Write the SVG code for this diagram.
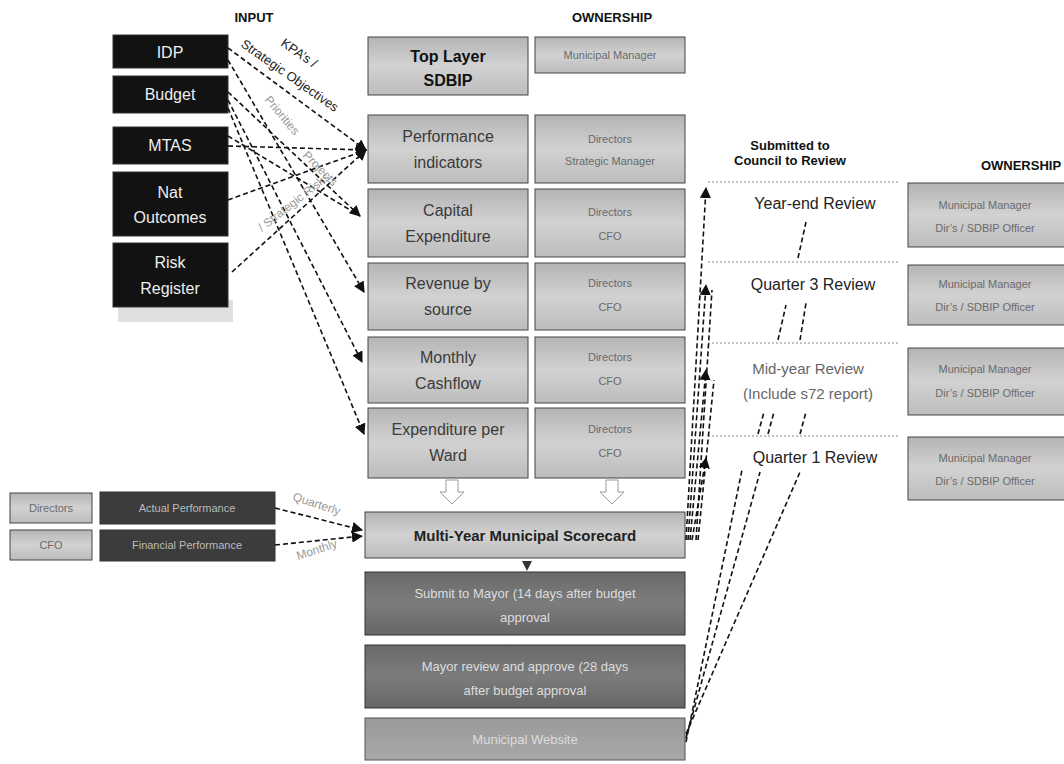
<svg xmlns="http://www.w3.org/2000/svg" width="1064" height="764" viewBox="0 0 1064 764">
<defs>
<linearGradient id="gLight" x1="0" y1="0" x2="0" y2="1">
<stop offset="0" stop-color="#b4b4b4"/><stop offset="0.5" stop-color="#d2d2d2"/><stop offset="1" stop-color="#bcbcbc"/>
</linearGradient>
<linearGradient id="gDark" x1="0" y1="0" x2="0" y2="1">
<stop offset="0" stop-color="#6a6a6a"/><stop offset="0.5" stop-color="#7c7c7c"/><stop offset="1" stop-color="#666"/>
</linearGradient>
<linearGradient id="gMid" x1="0" y1="0" x2="0" y2="1">
<stop offset="0" stop-color="#9a9a9a"/><stop offset="1" stop-color="#a8a8a8"/>
</linearGradient>
<marker id="ah" viewBox="0 0 10 10" refX="9" refY="5" markerWidth="7" markerHeight="7" orient="auto-start-reverse">
<path d="M0,0 L10,5 L0,10 z" fill="#111"/>
</marker>
<style>
text{font-family:"Liberation Sans",Arial,sans-serif;}
.title{font-size:13px;font-weight:bold;fill:#111;text-anchor:middle;}
.inbox{fill:#121212;stroke:#333;stroke-width:1;}
.intext{font-size:16px;fill:#eee;text-anchor:middle;}
.cbox{fill:url(#gLight);stroke:#444;stroke-width:1;}
.ctext{font-size:16px;fill:#3a3a3a;text-anchor:middle;}
.otext{font-size:11px;fill:#6a6a6a;text-anchor:middle;}
.dbox{fill:url(#gDark);stroke:#333;stroke-width:1;}
.dtext{font-size:13px;fill:#ddd;text-anchor:middle;}
.rtext{font-size:16px;fill:#222;text-anchor:middle;}
.rline{stroke:#888;stroke-width:1;stroke-dasharray:2 2;fill:none;}
.dash{stroke:#111;stroke-width:1.6;stroke-dasharray:5 3;fill:none;}
.dashm{stroke:#111;stroke-width:1.6;stroke-dasharray:5 3;fill:none;marker-end:url(#ah);}
.lbl{font-size:13px;fill:#222;}
.glbl{font-size:12px;fill:#999;}
.hollow{fill:#fff;stroke:#999;stroke-width:1;}
</style>
</defs>

<text class="title" x="254" y="22">INPUT</text>
<text class="title" x="612" y="22">OWNERSHIP</text>
<text class="title" x="790" y="150">Submitted to</text>
<text class="title" x="790" y="165">Council to Review</text>
<text class="title" x="1021" y="170">OWNERSHIP</text>

<g id="input-idp"><rect class="inbox" x="113" y="35" width="115" height="33"/><text class="intext" x="170" y="58">IDP</text></g>
<g id="input-budget"><rect class="inbox" x="113" y="76" width="115" height="37"/><text class="intext" x="170" y="100">Budget</text></g>
<g id="input-mtas"><rect class="inbox" x="113" y="127" width="115" height="37"/><text class="intext" x="170" y="151">MTAS</text></g>
<g id="input-nat"><rect class="inbox" x="113" y="172" width="115" height="64"/><text class="intext" x="170" y="198">Nat</text><text class="intext" x="170" y="223">Outcomes</text></g>
<g id="input-risk"><rect x="118" y="300" width="115" height="22" fill="#ccc" opacity="0.6"/><rect class="inbox" x="113" y="243" width="115" height="64"/><text class="intext" x="170" y="268">Risk</text><text class="intext" x="170" y="294">Register</text></g>

<g id="top-layer"><rect class="cbox" x="368" y="37" width="160" height="58"/><text x="448" y="62" font-size="16" font-weight="bold" fill="#111" text-anchor="middle">Top Layer</text><text x="448" y="86" font-size="16" font-weight="bold" fill="#111" text-anchor="middle">SDBIP</text></g>
<g id="perf"><rect class="cbox" x="368" y="115" width="160" height="68"/><text class="ctext" x="448" y="142">Performance</text><text class="ctext" x="448" y="168">indicators</text></g>
<g id="capex"><rect class="cbox" x="368" y="189" width="160" height="68"/><text class="ctext" x="448" y="216">Capital</text><text class="ctext" x="448" y="242">Expenditure</text></g>
<g id="revenue"><rect class="cbox" x="368" y="263" width="160" height="67"/><text class="ctext" x="448" y="289">Revenue by</text><text class="ctext" x="448" y="315">source</text></g>
<g id="cashflow"><rect class="cbox" x="368" y="337" width="160" height="66"/><text class="ctext" x="448" y="363">Monthly</text><text class="ctext" x="448" y="389">Cashflow</text></g>
<g id="ward"><rect class="cbox" x="368" y="408" width="160" height="70"/><text class="ctext" x="448" y="435">Expenditure per</text><text class="ctext" x="448" y="461">Ward</text></g>

<g id="own-mm"><rect class="cbox" x="535" y="37" width="150" height="36"/><text class="otext" x="610" y="59">Municipal Manager</text></g>
<g id="own-perf"><rect class="cbox" x="535" y="115" width="150" height="68"/><text class="otext" x="610" y="143">Directors</text><text class="otext" x="610" y="165">Strategic Manager</text></g>
<g id="own-capex"><rect class="cbox" x="535" y="189" width="150" height="68"/><text class="otext" x="610" y="216">Directors</text><text class="otext" x="610" y="240">CFO</text></g>
<g id="own-rev"><rect class="cbox" x="535" y="263" width="150" height="67"/><text class="otext" x="610" y="287">Directors</text><text class="otext" x="610" y="311">CFO</text></g>
<g id="own-cash"><rect class="cbox" x="535" y="337" width="150" height="66"/><text class="otext" x="610" y="361">Directors</text><text class="otext" x="610" y="385">CFO</text></g>
<g id="own-ward"><rect class="cbox" x="535" y="408" width="150" height="70"/><text class="otext" x="610" y="433">Directors</text><text class="otext" x="610" y="457">CFO</text></g>

<g id="scorecard"><rect class="cbox" x="365" y="512" width="320" height="46"/><text x="525" y="541" font-size="15" font-weight="bold" fill="#222" text-anchor="middle">Multi-Year Municipal Scorecard</text></g>
<g id="submit-mayor"><rect class="dbox" x="365" y="572" width="320" height="63"/><text class="dtext" x="525" y="598">Submit to Mayor (14 days after budget</text><text class="dtext" x="525" y="622">approval</text></g>
<g id="mayor-review"><rect class="dbox" x="365" y="645" width="320" height="63"/><text class="dtext" x="525" y="671">Mayor review and approve (28 days</text><text class="dtext" x="525" y="695">after budget approval</text></g>
<g id="website"><rect x="365" y="718" width="320" height="42" fill="url(#gMid)" stroke="#555"/><text class="dtext" x="525" y="744" fill="#f0f0f0">Municipal Website</text></g>

<g id="rev-yearend"><line class="rline" x1="708" y1="182" x2="900" y2="182"/><text class="rtext" x="815" y="209">Year-end Review</text></g>
<g id="rev-q3"><line class="rline" x1="708" y1="262" x2="900" y2="262"/><text class="rtext" x="813" y="290">Quarter 3 Review</text></g>
<g id="rev-mid"><line class="rline" x1="708" y1="343" x2="900" y2="343"/><text x="808" y="374" font-size="15" fill="#666" text-anchor="middle">Mid-year Review</text><text x="808" y="399" font-size="15" fill="#666" text-anchor="middle">(Include s72 report)</text></g>
<g id="rev-q1"><line class="rline" x1="708" y1="436" x2="900" y2="436"/><text class="rtext" x="815" y="463" fill="#333">Quarter 1 Review</text></g>

<g id="own-r1"><rect class="cbox" x="908" y="183" width="160" height="64"/><text class="otext" x="985" y="209">Municipal Manager</text><text class="otext" x="985" y="232">Dir’s / SDBIP Officer</text></g>
<g id="own-r2"><rect class="cbox" x="908" y="265" width="160" height="60"/><text class="otext" x="985" y="288">Municipal Manager</text><text class="otext" x="985" y="311">Dir’s / SDBIP Officer</text></g>
<g id="own-r3"><rect class="cbox" x="908" y="348" width="160" height="67"/><text class="otext" x="985" y="373">Municipal Manager</text><text class="otext" x="985" y="397">Dir’s / SDBIP Officer</text></g>
<g id="own-r4"><rect class="cbox" x="908" y="437" width="160" height="63"/><text class="otext" x="985" y="462">Municipal Manager</text><text class="otext" x="985" y="485">Dir’s / SDBIP Officer</text></g>

<g id="directors"><rect class="cbox" x="10" y="493" width="82" height="30"/><text class="otext" x="51" y="512">Directors</text></g>
<g id="cfo"><rect class="cbox" x="10" y="530" width="82" height="30"/><text class="otext" x="51" y="549">CFO</text></g>
<g id="actual"><rect x="100" y="492" width="175" height="32" fill="#3c3c3c" stroke="#333"/><text x="187" y="512" font-size="11" fill="#bbb" text-anchor="middle">Actual Performance</text></g>
<g id="financial"><rect x="100" y="530" width="175" height="31" fill="#3c3c3c" stroke="#333"/><text x="187" y="549" font-size="11" fill="#bbb" text-anchor="middle">Financial Performance</text></g>

<g id="connectors">
<line class="dashm" x1="228" y1="48" x2="366" y2="150"/>
<line class="dashm" x1="228" y1="60" x2="364" y2="292"/>
<line class="dashm" x1="228" y1="92" x2="360" y2="216"/>
<line class="dashm" x1="228" y1="100" x2="362" y2="362"/>
<line class="dashm" x1="228" y1="108" x2="364" y2="434"/>
<line class="dashm" x1="228" y1="146" x2="366" y2="150"/>
<line class="dashm" x1="228" y1="200" x2="366" y2="150"/>
<line class="dashm" x1="232" y1="272" x2="366" y2="150"/>
<line class="dash" x1="228" y1="136" x2="360" y2="216"/>
<text class="lbl" transform="translate(280,45) rotate(35)">KPA’s /</text>
<text class="lbl" transform="translate(240,46) rotate(35)">Strategic Objectives</text>
<text class="glbl" transform="translate(264,100) rotate(50)">Priorities</text>
<text class="glbl" transform="translate(302,156) rotate(45)">Projects</text>
<text class="glbl" transform="translate(262,232) rotate(-38)">/ Strategic Risks</text>

<polygon class="hollow" points="446,480 458,480 458,492 464,492 452,504 440,492 446,492"/>
<polygon class="hollow" points="606,480 618,480 618,492 624,492 612,504 600,492 606,492"/>
<polygon points="522,561 532,561 527,571" fill="#333"/>

<path class="dash" d="M275,508 L362,530" marker-end="url(#ah)"/>
<path class="dash" d="M275,545 L362,536" marker-end="url(#ah)"/>
<text class="glbl" fill="#777" transform="translate(292,500) rotate(18)">Quarterly</text>
<text class="glbl" fill="#777" transform="translate(298,560) rotate(-18)">Monthly</text>

<line class="dashm" x1="686" y1="540" x2="706" y2="188"/>
<line class="dashm" x1="688" y1="540" x2="706" y2="285"/>
<line class="dashm" x1="690" y1="540" x2="706" y2="370"/>
<line class="dashm" x1="692" y1="540" x2="706" y2="458"/>
<line class="dash" x1="696" y1="540" x2="712" y2="290"/>
<line class="dash" x1="698" y1="540" x2="714" y2="380"/>

<line class="dash" x1="686" y1="742" x2="742" y2="470"/>
<line class="dash" x1="686" y1="738" x2="760" y2="472"/>
<line class="dash" x1="686" y1="734" x2="800" y2="472"/>
<line class="dash" x1="758" y1="434" x2="764" y2="412"/>
<line class="dash" x1="768" y1="434" x2="774" y2="412"/>
<line class="dash" x1="800" y1="434" x2="806" y2="412"/>
<line class="dash" x1="778" y1="340" x2="786" y2="305"/>
<line class="dash" x1="800" y1="340" x2="806" y2="303"/>
<line class="dash" x1="798" y1="258" x2="806" y2="222"/>
</g>
</svg>
